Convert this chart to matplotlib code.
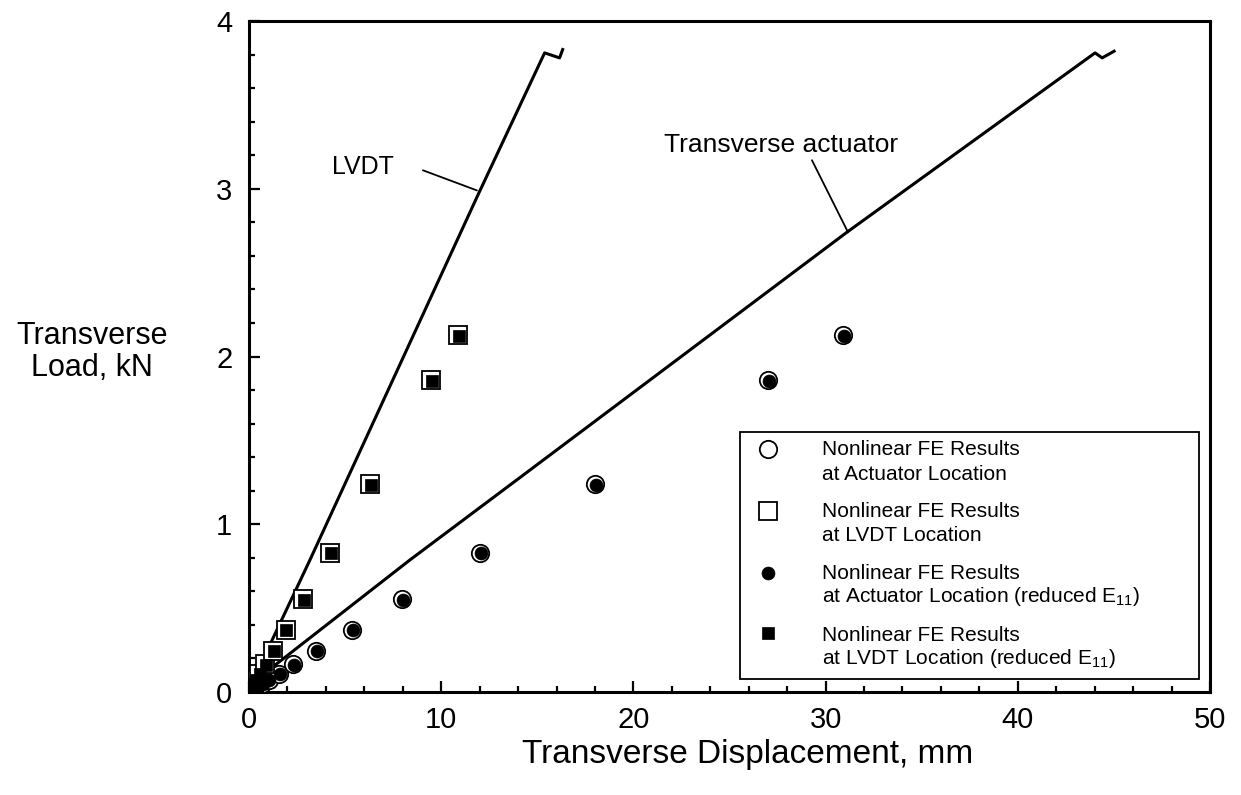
import matplotlib
matplotlib.use("Agg")
import matplotlib.pyplot as plt
from matplotlib.ticker import MultipleLocator
from matplotlib.patches import Rectangle

plt.rcParams['font.family'] = ['Liberation Sans', 'DejaVu Sans']
plt.rcParams['mathtext.fontset'] = 'custom'
plt.rcParams['mathtext.rm'] = 'Liberation Sans'
plt.rcParams['mathtext.it'] = 'Liberation Sans'

# ---- data ----
lvdt_line_x = [0, 1.04, 3.17, 11.9, 15.38, 16.16, 16.32]
lvdt_line_y = [0, 0.27, 0.787, 2.96, 3.81, 3.78, 3.83]

act_line_x = [0, 0.68, 8.37, 13.93, 31.1, 44.02, 44.39, 45.01]
act_line_y = [0, 0.10, 0.787, 1.264, 2.74, 3.81, 3.78, 3.82]

fe_load = [0, 0.003, 0.007, 0.013, 0.02, 0.03, 0.047, 0.07, 0.107, 0.165,
           0.245, 0.37, 0.555, 0.83, 1.24, 1.86, 2.13]
fe_act_disp = [0, 0.05, 0.1, 0.2, 0.3, 0.45, 0.7, 1.03, 1.56, 2.3,
               3.5, 5.35, 7.95, 12.0, 18.0, 27.0, 30.9]
fe_lvdt_disp = [0, 0.015, 0.035, 0.066, 0.10, 0.15, 0.24, 0.36, 0.54, 0.84,
                1.25, 1.9, 2.8, 4.2, 6.3, 9.45, 10.85]
red_load = [0, 0.003, 0.007, 0.013, 0.02, 0.03, 0.046, 0.069, 0.105, 0.163,
            0.243, 0.367, 0.551, 0.826, 1.234, 1.854, 2.122]
red_act_disp = [0, 0.05, 0.1, 0.21, 0.31, 0.46, 0.71, 1.05, 1.59, 2.34,
                3.55, 5.41, 8.01, 12.06, 18.06, 27.06, 30.96]
red_lvdt_disp = [0, 0.016, 0.036, 0.068, 0.104, 0.155, 0.245, 0.37, 0.56, 0.87,
                 1.29, 1.95, 2.86, 4.26, 6.36, 9.51, 10.91]

legend_labels = [
    ("Nonlinear FE Results", "at Actuator Location"),
    ("Nonlinear FE Results", "at LVDT Location"),
    ("Nonlinear FE Results", "at Actuator Location (reduced E$_{11}$)"),
    ("Nonlinear FE Results", "at LVDT Location (reduced E$_{11}$)"),
]

W, H = 1241, 795
fig = plt.figure(figsize=(W / 100, H / 100), dpi=100)
L, R, T, B = 249, 1210, 21, 692
ax = fig.add_axes([L / W, 1 - B / H, (R - L) / W, (B - T) / H])

ax.plot(lvdt_line_x, lvdt_line_y, color='black', lw=2.2, zorder=2)
ax.plot(act_line_x, act_line_y, color='black', lw=2.2, zorder=2)

open_ms = 12.5
fill_ms = 9.3
ax.plot(fe_act_disp, fe_load, 'o', ms=open_ms, mfc='white', mec='black', mew=1.3, zorder=3)
ax.plot(fe_lvdt_disp, fe_load, 's', ms=open_ms, mfc='white', mec='black', mew=1.3, zorder=3)
ax.plot(red_act_disp, red_load, 'o', ms=fill_ms, mfc='black', mec='black', mew=0.5, zorder=4)
ax.plot(red_lvdt_disp, red_load, 's', ms=fill_ms, mfc='black', mec='black', mew=0.5, zorder=4)

ax.set_xlim(0, 50)
ax.set_ylim(0, 4)
ax.xaxis.set_major_locator(MultipleLocator(10))
ax.xaxis.set_minor_locator(MultipleLocator(2))
ax.yaxis.set_major_locator(MultipleLocator(1))
ax.yaxis.set_minor_locator(MultipleLocator(0.2))
ax.tick_params(which='both', direction='in', top=False, right=False, width=1.6)
ax.tick_params(which='major', length=8, labelsize=21, pad=12)
ax.tick_params(axis='x', which='major', pad=10)
ax.tick_params(which='minor', length=4.5)
for s in ax.spines.values():
    s.set_linewidth(2.2)

ax.set_xlabel("Transverse Displacement, mm", fontsize=24)
ax.xaxis.set_label_coords((748 - L) / (R - L), (B - 763) / (B - T))
ax.xaxis.label.set_va('baseline')
fig.text(92 / W, 1 - 352 / H, "Transverse\nLoad, kN", fontsize=22,
         ha='center', va='center', linespacing=1.1)

# annotations
ax.text(4.3, 3.09, "LVDT", fontsize=18, ha='left', va='baseline')
ax.annotate('', xy=(11.86, 2.99), xytext=(9.05, 3.11),
            arrowprops=dict(arrowstyle='-', lw=1.3, color='black', shrinkA=0, shrinkB=0))
ax.text(21.6, 3.22, "Transverse actuator", fontsize=19, ha='left', va='baseline')
ax.annotate('', xy=(31.17, 2.74), xytext=(29.29, 3.17),
            arrowprops=dict(arrowstyle='-', lw=1.3, color='black', shrinkA=0, shrinkB=0))

# manual legend
def ax_pt(px, py):
    return ((px - L) / (R - L), (B - py) / (B - T))

x0, y0 = ax_pt(740, 679)
x1, y1 = ax_pt(1199, 432)
ax.add_patch(Rectangle((x0, y0), x1 - x0, y1 - y0, transform=ax.transAxes,
                       facecolor='white', edgecolor='black', lw=1.3, zorder=5))
styles = [
    dict(marker='o', ms=open_ms, mfc='white', mec='black', mew=1.3),
    dict(marker='s', ms=open_ms, mfc='white', mec='black', mew=1.3),
    dict(marker='o', ms=fill_ms, mfc='black', mec='black', mew=0.5),
    dict(marker='s', ms=fill_ms, mfc='black', mec='black', mew=0.5),
]
marker_py = [449, 511, 573, 633]
line1_py = [455, 517, 579, 641]
line2_py = [480, 541, 602, 664]
for i, (l1, l2) in enumerate(legend_labels):
    mx, my = ax_pt(768, marker_py[i])
    ax.plot([mx], [my], transform=ax.transAxes, linestyle='none', zorder=6,
            clip_on=False, **styles[i])
    tx, ty1 = ax_pt(822, line1_py[i])
    _, ty2 = ax_pt(822, line2_py[i])
    ax.text(tx, ty1, l1, transform=ax.transAxes, fontsize=15, ha='left', va='baseline', zorder=6)
    ax.text(tx, ty2, l2, transform=ax.transAxes, fontsize=15, ha='left', va='baseline', zorder=6)

fig.savefig("out.png", dpi=100)
